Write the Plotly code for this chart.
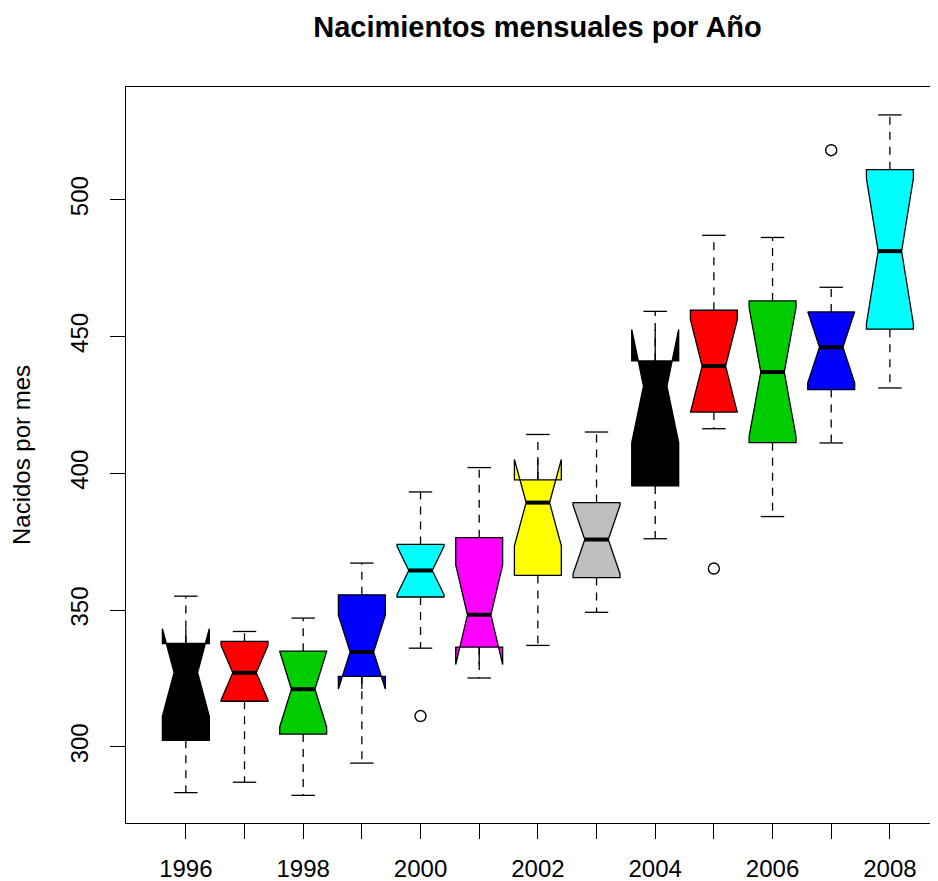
import plotly.graph_objects as go

# ---- data ----
years = ["1996", "1997", "1998", "1999", "2000", "2001", "2002",
         "2003", "2004", "2005", "2006", "2007", "2008"]
q1 = [302.4, 316.7, 304.7, 325.8, 354.8, 336.5, 362.7, 361.9, 395.4, 422.4, 411.2, 430.6, 452.7]
median = [327.2, 327.1, 321.1, 334.7, 364.5, 348.3, 389.3, 375.8, 431.9, 439.2, 437.0, 446.1, 481.2]
q3 = [337.8, 338.6, 335.0, 355.6, 374.0, 376.5, 397.6, 389.3, 441.1, 459.6, 463.0, 459.0, 511.0]
lower_whisker = [283.3, 287.1, 282.3, 294.1, 336.1, 325.2, 337.1, 349.2, 376.1, 416.3, 384.2, 411.1, 431.2]
upper_whisker = [355.1, 342.2, 347.1, 367.2, 393.2, 402.1, 414.2, 415.1, 459.2, 487.0, 486.2, 468.0, 531.0]
notch_half = [16.0, 10.0, 13.8, 13.5, 8.8, 18.2, 15.8, 12.5, 20.7, 17.0, 23.6, 13.0, 26.6]
outlier_years = ["2000", "2005", "2007"]
outlier_values = [311.3, 365.2, 518.1]
tick_labels = ["1996", "", "1998", "", "2000", "", "2002", "", "2004", "", "2006", "", "2008"]

colors = ["#000000", "#FF0000", "#00CD00", "#0000FF", "#00FFFF", "#FF00FF",
          "#FFFF00", "#BEBEBE", "#000000", "#FF0000", "#00CD00", "#0000FF", "#00FFFF"]

FONT = "Liberation Sans, Arial, Helvetica, sans-serif"
BOXW = 0.8
pos = list(range(1, len(years) + 1))
pos_of = {y: p for y, p in zip(years, pos)}

# the page body has an 8px margin, so the figure is sized to end at the window edge
W, H = 930, 873

fig = go.Figure()

for i, p in enumerate(pos):
    fig.add_trace(go.Box(
        x=[p], q1=[q1[i]], median=[median[i]], q3=[q3[i]],
        lowerfence=[q1[i]], upperfence=[q3[i]],
        notchspan=[notch_half[i]], notched=True, notchwidth=0.25,
        width=BOXW, whiskerwidth=0, boxpoints=False,
        fillcolor=colors[i], line=dict(color="black", width=1.3),
        showlegend=False, hoverinfo="skip"))

# dashed whiskers
wx, wy = [], []
for i, p in enumerate(pos):
    wx += [p, p, None, p, p, None]
    wy += [q3[i], upper_whisker[i], None, q1[i], lower_whisker[i], None]
fig.add_trace(go.Scatter(x=wx, y=wy, mode="lines",
                         line=dict(color="black", width=1.3, dash="8px,7px"),
                         showlegend=False, hoverinfo="skip"))

# staples
sx, sy = [], []
cap = BOXW / 4
for i, p in enumerate(pos):
    sx += [p - cap, p + cap, None, p - cap, p + cap, None]
    sy += [upper_whisker[i], upper_whisker[i], None, lower_whisker[i], lower_whisker[i], None]
fig.add_trace(go.Scatter(x=sx, y=sy, mode="lines",
                         line=dict(color="black", width=1.3),
                         showlegend=False, hoverinfo="skip"))

# thick median lines
mx, my = [], []
mh = BOXW / 4
for i, p in enumerate(pos):
    mx += [p - mh, p + mh, None]
    my += [median[i], median[i], None]
fig.add_trace(go.Scatter(x=mx, y=my, mode="lines",
                         line=dict(color="black", width=4),
                         showlegend=False, hoverinfo="skip"))

# outliers
fig.add_trace(go.Scatter(x=[pos_of[y] for y in outlier_years], y=outlier_values,
                         mode="markers",
                         marker=dict(symbol="circle-open", size=11, color="black",
                                     line=dict(width=1.4, color="black")),
                         showlegend=False, hoverinfo="skip"))

fig.update_layout(
    width=W, height=H,
    margin=dict(l=118, r=0, t=79, b=58),
    paper_bgcolor="white", plot_bgcolor="white",
    font=dict(family=FONT, size=24, color="black"),
    title=dict(text="<b>Nacimientos mensuales por Año</b>",
               font=dict(family=FONT, size=29, color="black"),
               xref="container", x=529.5 / W, xanchor="center",
               yref="container", y=1 - 19 / H, yanchor="middle"),
    xaxis=dict(range=[-0.02, 13.82], tickmode="array", tickvals=pos, ticktext=tick_labels,
               showgrid=False, zeroline=False, showline=True, linecolor="black",
               linewidth=1.3, mirror=True, ticks="outside", ticklen=15,
               tickwidth=1.3, tickcolor="black", tickfont=dict(size=24),
               ticklabelstandoff=9, automargin=False),
    yaxis=dict(range=[272.2, 541.2], tickmode="array", tickvals=[300, 350, 400, 450, 500],
               showgrid=False, zeroline=False, showline=True, linecolor="black",
               linewidth=1.3, mirror=False, ticks="outside", ticklen=15,
               tickwidth=1.3, tickcolor="black", tickangle=-90, tickfont=dict(size=24),
               ticklabelstandoff=12, automargin=False),
    annotations=[dict(text="Nacidos por mes", xref="paper", yref="paper",
                      x=(21 - 126) / 812, y=0.5, xanchor="center", yanchor="middle",
                      textangle=-90, showarrow=False,
                      font=dict(family=FONT, size=24, color="black"))],
)

fig.write_html("out.html")
